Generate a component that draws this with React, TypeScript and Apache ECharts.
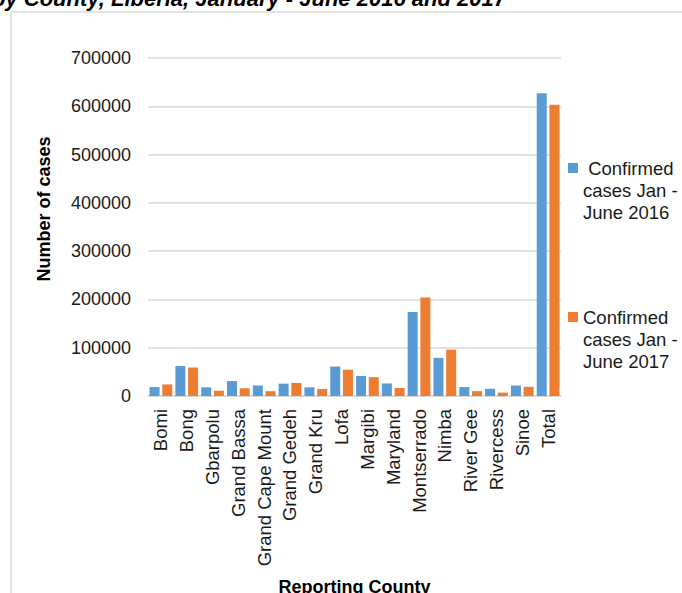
import React, { useEffect, useRef } from 'react'
import * as echarts from 'echarts'

const FONT = '"Liberation Sans", Arial, sans-serif'

const counties = [
  'Bomi', 'Bong', 'Gbarpolu', 'Grand Bassa', 'Grand Cape Mount', 'Grand Gedeh', 'Grand Kru', 'Lofa',
  'Margibi', 'Maryland', 'Montserrado', 'Nimba', 'River Gee', 'Rivercess', 'Sinoe', 'Total'
]
const cases2016 = [18500, 62000, 18000, 31000, 22000, 25500, 18000, 61000, 41500, 26000, 174000, 79000, 18500, 15000, 21500, 627000]
const cases2017 = [24000, 59000, 11000, 16000, 10000, 27000, 14500, 54500, 39000, 16500, 204000, 96000, 10000, 7000, 19000, 603000]

const seriesNames = ['Confirmed cases Jan - June 2016', 'Confirmed cases Jan - June 2017']
const seriesColors = ['#5B9BD5', '#ED7D31']
// legend texts as Excel wrapped them
const legendLines = [' Confirmed\ncases Jan -\nJune 2016', 'Confirmed\ncases Jan -\nJune 2017']

export default function App() {
  const chartRef = useRef<HTMLDivElement>(null)

  useEffect(() => {
    if (!chartRef.current) return
    const chart = echarts.init(chartRef.current, undefined, { renderer: 'svg' })

    // blank lines on top so the icon sits beside the first line of text
    const legendFor = (i: number, top: number) => ({
      data: [seriesNames[i]],
      orient: 'vertical' as const,
      left: 568,
      top,
      padding: 0,
      itemWidth: 10,
      itemHeight: 10,
      icon: 'rect',
      selectedMode: false,
      formatter: () => '\n\n' + legendLines[i],
      textStyle: { fontFamily: FONT, fontSize: 18.5, lineHeight: 22, color: '#1a1a1a' }
    })

    const option: echarts.EChartsOption = {
      animation: false,
      textStyle: { fontFamily: FONT },
      graphic: [
        {
          type: 'rect',
          z: -1,
          silent: true,
          shape: { x: 11, y: 12, width: 800, height: 700 },
          style: { fill: 'none', stroke: '#d9d9d9', lineWidth: 1.5 }
        },
        {
          // caption of the page above the chart, cut off at the top
          type: 'text',
          x: -8,
          y: 9,
          silent: true,
          style: {
            text: 'by County, Liberia, January - June 2016 and 2017',
            font: `italic bold 22px ${FONT}`,
            fill: '#000',
            verticalAlign: 'bottom'
          }
        }
      ],
      legend: [legendFor(0, 113), legendFor(1, 262)],
      grid: { left: 148, right: 121, top: 58, bottom: 197, outerBoundsMode: 'none' } as any,
      xAxis: {
        type: 'category',
        data: counties,
        name: 'Reporting County',
        nameLocation: 'middle',
        nameGap: 182,
        nameTextStyle: { fontFamily: FONT, fontSize: 18, fontWeight: 'bold', color: '#000' },
        axisLine: { lineStyle: { color: '#d9d9d9', width: 1.5 } },
        axisTick: { show: false },
        axisLabel: {
          rotate: 90,
          interval: 0,
          margin: 13,
          fontFamily: FONT,
          fontSize: 18.5,
          color: '#1a1a1a'
        }
      },
      yAxis: {
        type: 'value',
        min: 0,
        max: 700000,
        interval: 100000,
        name: 'Number of cases',
        nameLocation: 'middle',
        nameGap: 95,
        nameTextStyle: {
          fontFamily: FONT,
          fontSize: 18,
          fontWeight: 'bold',
          color: '#000',
          padding: [0, 0, 0, 36]
        },
        axisLine: { show: false },
        axisTick: { show: false },
        axisLabel: {
          margin: 17,
          fontFamily: FONT,
          fontSize: 18,
          color: '#1a1a1a',
          formatter: (v: number) => String(v)
        },
        splitLine: { lineStyle: { color: '#d9d9d9', width: 1.5 } }
      },
      series: [cases2016, cases2017].map((values, i) => ({
        name: seriesNames[i],
        type: 'bar' as const,
        data: values,
        barCategoryGap: '12%',
        barGap: '27%',
        itemStyle: { color: seriesColors[i] }
      }))
    }

    chart.setOption(option)
    return () => chart.dispose()
  }, [])

  return (
    <div
      ref={chartRef}
      style={{ position: 'absolute', left: 0, top: 0, width: 682, height: 593, background: '#fff' }}
    />
  )
}
